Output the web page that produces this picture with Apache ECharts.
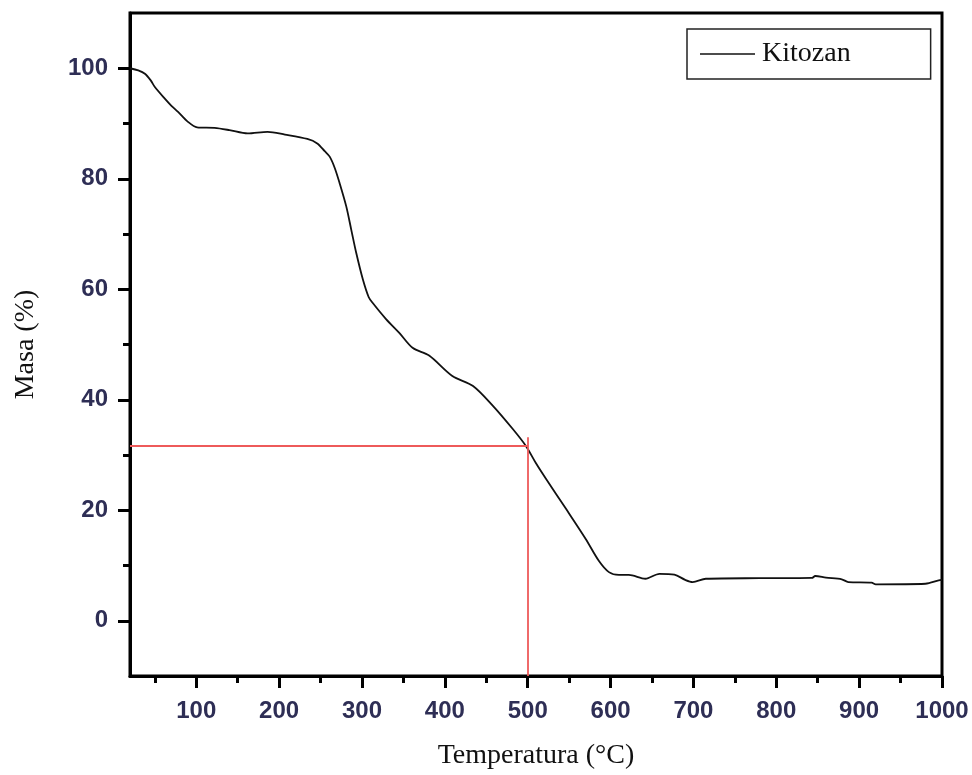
<!DOCTYPE html>
<html>
<head>
<meta charset="utf-8">
<script src="https://cdn.jsdelivr.net/npm/echarts@6/dist/echarts.min.js"></script>
<style>html,body{margin:0;padding:0;background:#fff;}#c{width:972px;height:775px;}</style>
</head>
<body>
<div id="c"></div>
<script>
var temperature = [20,30,38,45,50,62,70,78,90,101,122,140,162,186,207,234,246,255,261,267,273,281,287,293,301,308,313,329,345,361,381,409,434,458,482,498,510,522,546,570,586,598,610,622,642,659,677,690,699,715,780,843,847,860,879,887,915,920,980,996,1000];
var mass = [100.0,99.6,99.0,97.8,96.6,94.5,93.2,92.1,90.3,89.3,89.2,88.8,88.2,88.5,88.0,87.2,86.4,85.0,84.0,82.0,79.2,75.0,70.8,66.6,61.8,58.6,57.5,54.6,52.1,49.4,48.0,44.3,42.5,38.9,34.7,31.6,28.5,25.7,20.3,14.8,10.8,8.8,8.3,8.3,7.6,8.5,8.35,7.4,7.0,7.6,7.7,7.75,8.1,7.8,7.5,7.0,6.9,6.6,6.7,7.3,7.4];
var xMajorTicks = [100,200,300,400,500,600,700,800,900,1000];
var xMinorTicks = [50,150,250,350,450,550,650,750,850,950];
var yMajorTicks = [0,20,40,60,80,100];
var yMinorTicks = [10,30,50,70,90];
var markerT = 500;
var markerMass = 31.7;
var markerTop = 33.2;
var seriesName = 'Kitozan';

var data = temperature.map(function(t,i){return [t, mass[i]];});
var labelStyle = {fontFamily:'Liberation Sans', fontSize:24, fontWeight:'bold', color:'#2e2e55'};
function plain(v){ return String(v); }
var chart = echarts.init(document.getElementById('c'));
chart.setOption({
  animation:false,
  grid:{left:130, right:30, top:13, bottom:98, show:true, borderColor:'#000', borderWidth:3, backgroundColor:'transparent'},
  legend:{
    data:[seriesName], left:687, top:29, orient:'horizontal', icon:'rect',
    padding:[10,80,10,13], itemWidth:55, itemHeight:1.6, itemGap:0,
    itemStyle:{color:'#111'},
    borderColor:'#222', borderWidth:1.5, borderRadius:0,
    textStyle:{fontFamily:'Liberation Serif', fontSize:28, color:'#111', lineHeight:30, padding:[0,0,0,2]}
  },
  xAxis:[{
    type:'value', min:20, max:1000,
    name:'Temperatura (°C)', nameLocation:'middle', nameGap:66,
    nameTextStyle:{fontFamily:'Liberation Serif', fontSize:28, color:'#111'},
    axisLine:{show:true, onZero:false, lineStyle:{color:'#000', width:3}},
    axisTick:{show:true, inside:false, length:12, customValues:xMajorTicks, lineStyle:{color:'#000', width:3}},
    axisLabel:{show:true, margin:23, customValues:xMajorTicks, formatter:plain, fontFamily:labelStyle.fontFamily, fontSize:labelStyle.fontSize, fontWeight:labelStyle.fontWeight, color:labelStyle.color},
    splitLine:{show:false}
  },{
    type:'value', min:20, max:1000, position:'bottom',
    axisLine:{show:false, onZero:false},
    axisTick:{show:true, inside:false, length:7, customValues:xMinorTicks, lineStyle:{color:'#000', width:3}},
    axisLabel:{show:false}, splitLine:{show:false}
  }],
  yAxis:[{
    type:'value', min:-10, max:110,
    name:'Masa (%)', nameLocation:'middle', nameGap:90,
    nameTextStyle:{fontFamily:'Liberation Serif', fontSize:28, color:'#111'},
    axisLine:{show:true, onZero:false, lineStyle:{color:'#000', width:3}},
    axisTick:{show:true, inside:false, length:12, customValues:yMajorTicks, lineStyle:{color:'#000', width:3}},
    axisLabel:{show:true, margin:22, customValues:yMajorTicks, formatter:plain, fontFamily:labelStyle.fontFamily, fontSize:labelStyle.fontSize, fontWeight:labelStyle.fontWeight, color:labelStyle.color},
    splitLine:{show:false}
  },{
    type:'value', min:-10, max:110, position:'left',
    axisLine:{show:false, onZero:false},
    axisTick:{show:true, inside:false, length:7, customValues:yMinorTicks, lineStyle:{color:'#000', width:3}},
    axisLabel:{show:false}, splitLine:{show:false}
  }],
  series:[{
    name:seriesName, type:'line', data:data, xAxisIndex:0, yAxisIndex:0,
    symbol:'none', showSymbol:false, smooth:0.3,
    lineStyle:{color:'#111', width:1.8}, itemStyle:{color:'#111'},
    markLine:{
      silent:true, symbol:'none', animation:false,
      label:{show:false},
      lineStyle:{color:'#ee5a5a', width:1.8, type:'solid'},
      data:[
        [{coord:[20, markerMass]},{coord:[markerT, markerMass]}],
        [{coord:[markerT, markerTop]},{coord:[markerT, -10]}]
      ]
    }
  }]
});
</script>
</body>
</html>
